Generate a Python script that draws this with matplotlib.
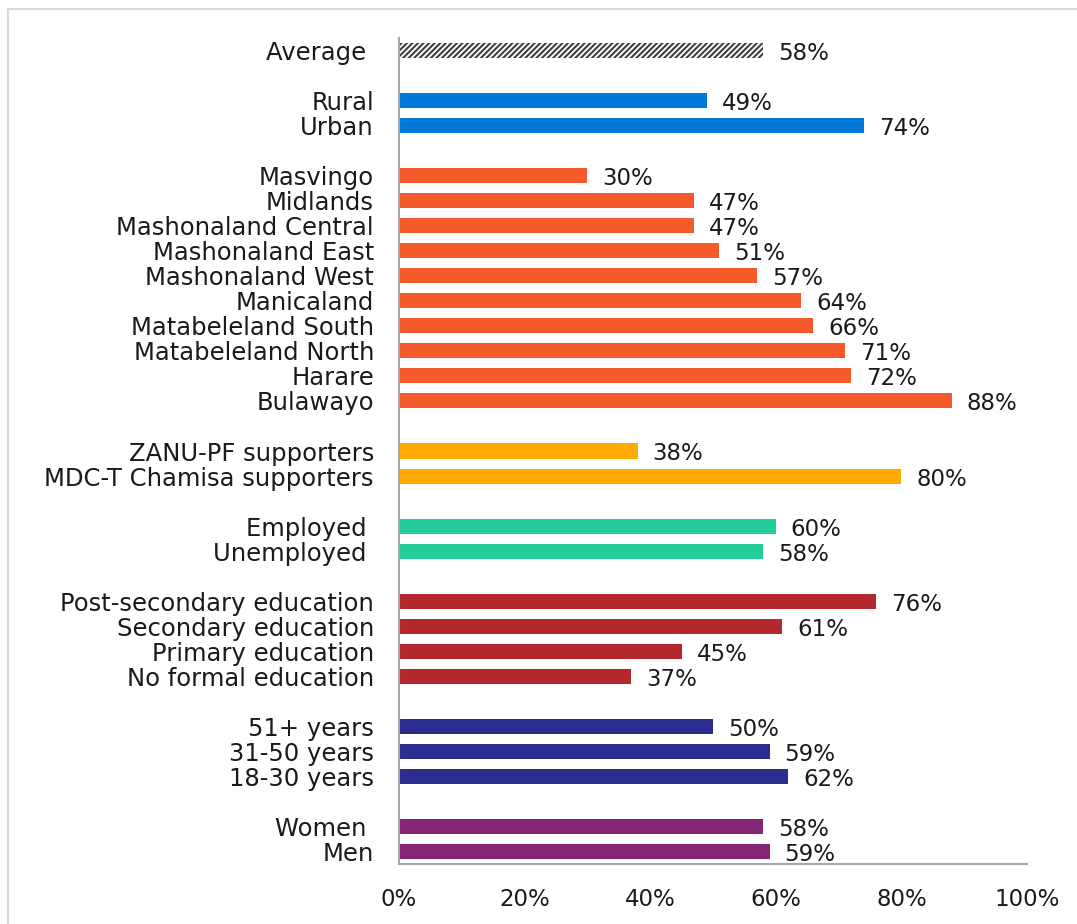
import matplotlib.pyplot as plt
from matplotlib.patches import Rectangle

# groups of categories, drawn top to bottom with a blank row between groups
average_labels = ["Average "]
average_vals = [58]
area_labels = ["Rural", "Urban"]
area_vals = [49, 74]
province_labels = ["Masvingo", "Midlands", "Mashonaland Central", "Mashonaland East",
                   "Mashonaland West", "Manicaland", "Matabeleland South",
                   "Matabeleland North", "Harare", "Bulawayo"]
province_vals = [30, 47, 47, 51, 57, 64, 66, 71, 72, 88]
party_labels = ["ZANU-PF supporters", "MDC-T Chamisa supporters"]
party_vals = [38, 80]
employment_labels = ["Employed ", "Unemployed "]
employment_vals = [60, 58]
education_labels = ["Post-secondary education", "Secondary education",
                    "Primary education", "No formal education"]
education_vals = [76, 61, 45, 37]
age_labels = ["51+ years", "31-50 years", "18-30 years"]
age_vals = [50, 59, 62]
gender_labels = ["Women ", "Men"]
gender_vals = [58, 59]

xticks = [0, 20, 40, 60, 80, 100]

groups = [
    (average_labels, average_vals, "white"),
    (area_labels, area_vals, "#0078D7"),
    (province_labels, province_vals, "#F55A2B"),
    (party_labels, party_vals, "#FFAA00"),
    (employment_labels, employment_vals, "#23CC98"),
    (education_labels, education_vals, "#B3272D"),
    (age_labels, age_vals, "#2B2C8F"),
    (gender_labels, gender_vals, "#832574"),
]

plt.rcParams['font.family'] = ['DejaVu Sans']
plt.rcParams['hatch.linewidth'] = 1.5
fs = 16.5

fig = plt.figure(figsize=(10.77, 9.24), dpi=100)
ax = fig.add_axes([399 / 1077, 60 / 924, 628 / 1077, 826 / 924])

pos = 0
ypos, ylabels = [], []
for gi, (labels, vals, color) in enumerate(groups):
    for lab, v in zip(labels, vals):
        if gi == 0:
            ax.barh(pos, v, height=0.58, color="white", edgecolor="#404040",
                    hatch="//////", linewidth=0)
        else:
            ax.barh(pos, v, height=0.6, color=color, linewidth=0)
        ax.annotate(f"{v}%", (v, pos), xytext=(15, -3), textcoords="offset pixels",
                    ha="left", va="center", fontsize=fs, color="#1a1a1a")
        ypos.append(pos)
        ylabels.append(lab)
        pos += 1
    pos += 1
pos -= 1

ax.set_ylim(pos - 0.5, -0.5)
ax.set_xlim(0, 100)
ax.set_yticks(ypos)
ax.set_yticklabels(ylabels, fontsize=17.5, color="#1a1a1a")
ax.set_xticks(xticks)
ax.set_xticklabels([f"{t}%" for t in xticks], fontsize=fs, color="#1a1a1a")
ax.tick_params(axis="both", length=0)
ax.tick_params(axis="x", pad=17)
ax.tick_params(axis="y", pad=18)

for side in ["top", "right"]:
    ax.spines[side].set_visible(False)
for side in ["left", "bottom"]:
    ax.spines[side].set_color("#a6a6a6")
    ax.spines[side].set_linewidth(1.5)

# light frame around the chart area
fig.patches.append(Rectangle((7.5 / 1077, -0.1), 1.2, 1.1 - 9 / 924,
                             transform=fig.transFigure, fill=False,
                             edgecolor="#d9d9d9", linewidth=1.5))

fig.savefig("out.png", dpi=100)
